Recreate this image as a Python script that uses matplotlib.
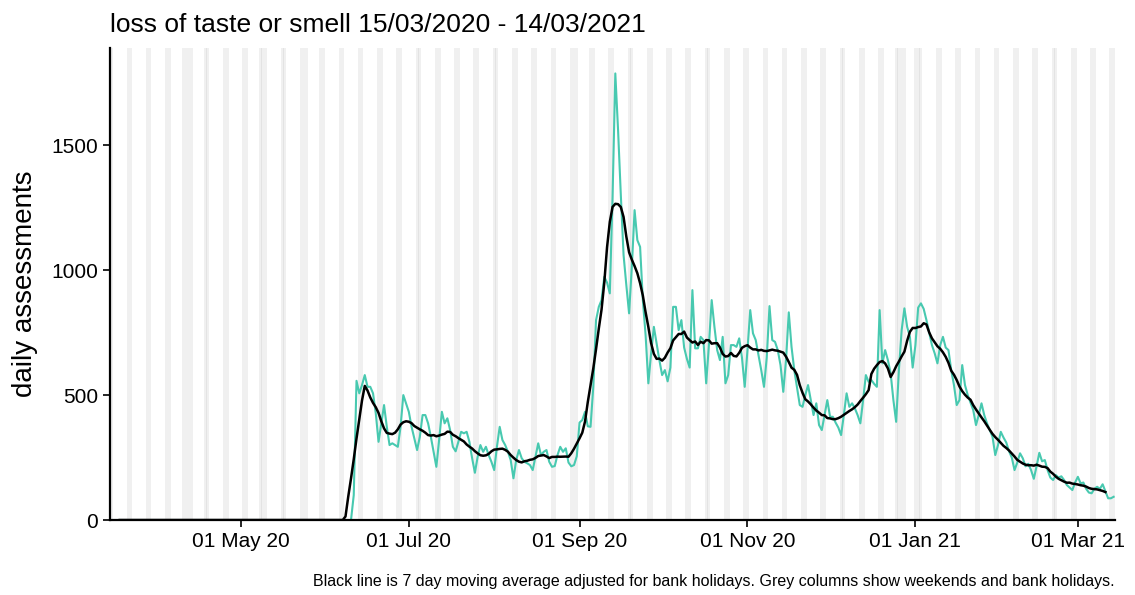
import numpy as np
import pandas as pd
import matplotlib
matplotlib.use("Agg")
import matplotlib.pyplot as plt
import matplotlib.dates as mdates

plt.rcParams['font.family'] = ['Liberation Sans', 'DejaVu Sans']

# daily assessments from 10 Jun 2020 to 14 Mar 2021 (zero before)
first_day = '2020-06-10'
daily = [
    0, 100, 557, 507, 540, 580, 533,
    533, 507, 427, 313, 387, 460, 373,
    300, 307, 300, 293, 373, 500, 467,
    433, 373, 327, 280, 333, 420, 420,
    387, 333, 273, 213, 320, 433, 387,
    407, 360, 293, 275, 313, 353, 347,
    353, 313, 247, 189, 253, 300, 273,
    293, 260, 233, 200, 293, 373, 320,
    300, 273, 240, 167, 240, 280, 247,
    233, 227, 220, 200, 253, 307, 260,
    273, 280, 233, 213, 216, 260, 293,
    273, 287, 230, 215, 220, 255, 390,
    400, 433, 375, 373, 533, 800, 853,
    880, 973, 950, 907, 1293, 1787, 1560,
    1300, 1060, 940, 827, 1013, 1240, 1120,
    1093, 880, 740, 547, 667, 773, 707,
    640, 580, 600, 555, 610, 853, 853,
    760, 800, 690, 645, 610, 920, 687,
    687, 733, 720, 547, 700, 880, 773,
    680, 640, 733, 547, 580, 700, 700,
    693, 727, 650, 533, 680, 840, 747,
    720, 660, 600, 533, 650, 856, 720,
    713, 680, 620, 513, 640, 831, 693,
    600, 530, 460, 453, 500, 540, 480,
    420, 467, 380, 360, 420, 480, 413,
    413, 390, 370, 340, 420, 507, 453,
    467, 447, 420, 387, 480, 580, 553,
    560, 545, 533, 840, 627, 680, 640,
    587, 480, 393, 600, 760, 847, 773,
    733, 610, 700, 850, 867, 845, 800,
    750, 700, 667, 627, 700, 733, 690,
    680, 600, 540, 460, 480, 620, 540,
    500, 470, 440, 380, 420, 467, 420,
    387, 360, 333, 260, 300, 353, 330,
    310, 275, 250, 200, 230, 267, 247,
    215, 225, 200, 165, 215, 269, 235,
    240, 200, 170, 160, 180, 170, 175,
    160, 140, 130, 120, 150, 173, 147,
    150, 125, 110, 107, 125, 133, 125,
    143, 115, 87, 87, 93,
]

bank_holidays = ['2020-04-10', '2020-04-13', '2020-05-08', '2020-05-25',
                 '2020-08-31', '2020-12-25', '2020-12-28', '2021-01-01']

all_days = pd.date_range('2020-03-15', '2021-03-14')
s = pd.Series(daily, index=pd.date_range(first_day, periods=len(daily)))
s = s.reindex(all_days, fill_value=0)
avg = s.rolling(7, center=True).mean()

fig = plt.figure(figsize=(11.35, 5.95), dpi=100)
ax = fig.add_axes([0.097, 0.126, 0.885, 0.793])

# grey columns for weekends and bank holidays
grey_days = [d for d in pd.date_range('2020-03-14', '2021-03-14') if d.weekday() >= 5]
grey_days += list(pd.to_datetime(bank_holidays))
for d in grey_days:
    ax.axvspan(d - pd.Timedelta(hours=12.5), d + pd.Timedelta(hours=12.5),
               color='#909090', alpha=0.13, lw=0, zorder=0)

ax.plot(s.index, s.values, color='#48c9b0', lw=1.5, zorder=2)
ax.plot(avg.index, avg.values, color='black', lw=1.8, zorder=3)

ax.set_xlim(pd.Timestamp('2020-03-14 12:00'), pd.Timestamp('2021-03-14 08:00'))
ax.set_ylim(0, 1888)
ax.set_yticks([0, 500, 1000, 1500])
ax.xaxis.set_major_locator(mdates.MonthLocator(bymonth=[1, 3, 5, 7, 9, 11]))
ax.xaxis.set_major_formatter(mdates.DateFormatter('%d %b %y'))

for side in ['top', 'right']:
    ax.spines[side].set_visible(False)
for side in ['left', 'bottom']:
    ax.spines[side].set_linewidth(1.6)
ax.tick_params(axis='both', labelsize=15, length=5, width=1.2, color='black', labelcolor='black')

ax.set_ylabel('daily assessments', fontsize=20, labelpad=10)
ax.set_title('loss of taste or smell 15/03/2020 - 14/03/2021', fontsize=19, loc='left',
             x=0.0, pad=12)
fig.text(0.982, 0.015, 'Black line is 7 day moving average adjusted for bank holidays. '
         'Grey columns show weekends and bank holidays.', ha='right', fontsize=11.5)

fig.savefig('out.png', dpi=100)
